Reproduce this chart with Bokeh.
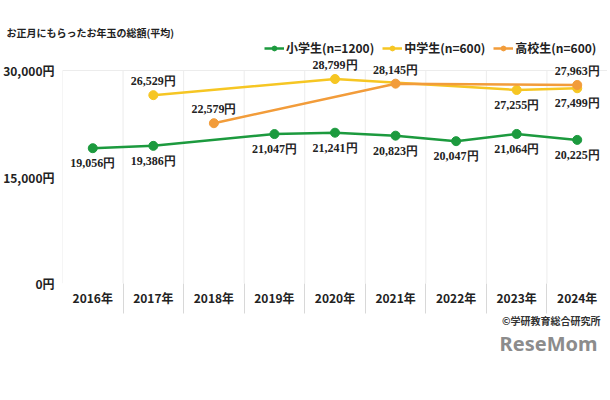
from bokeh.plotting import figure
from bokeh.models import (ColumnDataSource, FixedTicker, Legend, LegendItem,
                          LabelSet, Title)
from bokeh.embed import file_html
from bokeh.resources import INLINE

# ---------------- data ----------------
YEARS = [2016, 2017, 2018, 2019, 2020, 2021, 2022, 2023, 2024]
YEAR_LABELS = ["2016年", "2017年", "2018年", "2019年", "2020年",
               "2021年", "2022年", "2023年", "2024年"]

ELEM_NAME = "小学生(n=1200)"
ELEM_YEARS = [2016, 2017, 2019, 2020, 2021, 2022, 2023, 2024]
ELEM_VALUES = [19056, 19386, 21047, 21241, 20823, 20047, 21064, 20225]
ELEM_PLACE = ["below"] * 8

MID_NAME = "中学生(n=600)"
MID_YEARS = [2017, 2020, 2023, 2024]
MID_VALUES = [26529, 28799, 27255, 27499]
MID_PLACE = ["above", "above", "below", "below"]

HIGH_NAME = "高校生(n=600)"
HIGH_YEARS = [2018, 2021, 2024]
HIGH_VALUES = [22579, 28145, 27963]
HIGH_PLACE = ["above", "above", "above"]

Y_TICKS = [0, 15000, 30000]
Y_TICK_LABELS = ["0円", "15,000円", "30,000円"]

TITLE = "お正月にもらったお年玉の総額(平均)"
CREDIT = "©学研教育総合研究所"
LOGO = "ReseMom"

# ---------------- style / layout ----------------
FONT = "Noto Sans CJK JP"
TXT = "#222222"
GREEN = "#1c9a3e"
YELLOW = "#f6c623"
ORANGE = "#f29c3a"
GRID = "#ececec"

H = 398
FRAME_TOP, FRAME_BOTTOM, AXIS_TOP_PX = 39, 283, 70   # page pixels
y_end = Y_TICKS[-1] * (FRAME_BOTTOM - FRAME_TOP) / (FRAME_BOTTOM - AXIS_TOP_PX)

p = figure(width=607, height=H, x_range=(0, len(YEARS)), y_range=(0, y_end),
           output_backend="svg", toolbar_location=None,
           min_border_left=61, min_border_right=0,
           min_border_top=FRAME_TOP, min_border_bottom=H - FRAME_BOTTOM)
p.outline_line_color = None
p.background_fill_color = "white"
p.border_fill_color = "white"

p.title.text = TITLE
p.title.align = "left"
p.title.offset = -56
p.title.standoff = 0
p.title.text_font = FONT
p.title.text_font_style = "bold"
p.title.text_font_size = "10px"
p.title.text_color = TXT

centers = [i + 0.5 for i in range(len(YEARS))]
bounds = [i for i in range(1, len(YEARS))]

# x axis (minor ticks = category separators below the frame)
p.xaxis.ticker = FixedTicker(ticks=centers, minor_ticks=bounds)
p.xaxis.major_label_overrides = {c: lab for c, lab in zip(centers, YEAR_LABELS)}
p.xaxis.axis_line_color = None
p.xaxis.major_tick_line_color = None
p.xaxis.major_tick_out = 0
p.xaxis.major_tick_in = 0
p.xaxis.minor_tick_line_color = "#d8d8d8"
p.xaxis.minor_tick_out = 30
p.xaxis.minor_tick_in = 0
p.xaxis.major_label_standoff = -25
p.xaxis.major_label_text_font = FONT
p.xaxis.major_label_text_font_style = "bold"
p.xaxis.major_label_text_font_size = "12px"
p.xaxis.major_label_text_color = TXT

# y axis
p.yaxis.ticker = FixedTicker(ticks=Y_TICKS)
p.yaxis.major_label_overrides = {t: lab for t, lab in zip(Y_TICKS, Y_TICK_LABELS)}
p.yaxis.axis_line_color = None
p.yaxis.major_tick_line_color = None
p.yaxis.minor_tick_line_color = None
p.yaxis.major_tick_out = 0
p.yaxis.major_tick_in = 0
p.yaxis.major_label_standoff = 8
p.yaxis.major_label_text_font = FONT
p.yaxis.major_label_text_font_style = "bold"
p.yaxis.major_label_text_font_size = "12px"
p.yaxis.major_label_text_color = TXT

# grids: horizontal lines at 0 and top; vertical cell borders drawn as segments
p.xgrid.grid_line_color = None
p.ygrid.ticker = FixedTicker(ticks=[Y_TICKS[0], Y_TICKS[-1]])
p.ygrid.grid_line_color = GRID
seg_x = [0] + bounds
p.segment(x0=seg_x, y0=[Y_TICKS[0]] * len(seg_x), x1=seg_x,
          y1=[Y_TICKS[-1]] * len(seg_x), line_color=GRID, line_width=1)


def fmt(v):
    return f"{v:,}円"


legend_items = []
for name, yrs, vals, place, color in [
        (ELEM_NAME, ELEM_YEARS, ELEM_VALUES, ELEM_PLACE, GREEN),
        (MID_NAME, MID_YEARS, MID_VALUES, MID_PLACE, YELLOW),
        (HIGH_NAME, HIGH_YEARS, HIGH_VALUES, HIGH_PLACE, ORANGE)]:
    xs = [YEARS.index(y) + 0.5 for y in yrs]
    src = ColumnDataSource(dict(
        x=xs, y=vals, label=[fmt(v) for v in vals],
        off=[14 if pl == "above" else -15 for pl in place]))
    r1 = p.line("x", "y", source=src, line_color=color, line_width=2.5)
    r2 = p.scatter("x", "y", source=src, size=9, fill_color=color,
                   line_color=color)
    legend_items.append(LegendItem(label=name, renderers=[r1, r2]))
    ls = LabelSet(x="x", y="y", text="label", source=src, y_offset="off",
                  text_align="center", text_baseline="middle",
                  text_font=FONT, text_font_style="bold",
                  text_font_size="12px", text_color=TXT)
    p.add_layout(ls)

legend = Legend(items=legend_items, orientation="horizontal",
                location=(202, 227), label_text_font=FONT,
                label_text_font_style="bold", label_text_font_size="12px",
                label_text_color=TXT, glyph_width=20, glyph_height=12,
                label_standoff=2, spacing=8, padding=0, margin=0,
                background_fill_alpha=0, border_line_color=None)
p.add_layout(legend, "center")

p.add_layout(Title(text=CREDIT, align="right", offset=7, standoff=5,
                   text_font=FONT, text_font_style="bold",
                   text_font_size="10px", text_color="#333333"), "below")
p.add_layout(Title(text=LOGO, align="right", offset=10, standoff=-5,
                   text_font="Noto Sans", text_font_style="bold",
                   text_font_size="20px", text_color="#8c8c8c"), "below")

open("out.html", "w").write(file_html(p, INLINE))
